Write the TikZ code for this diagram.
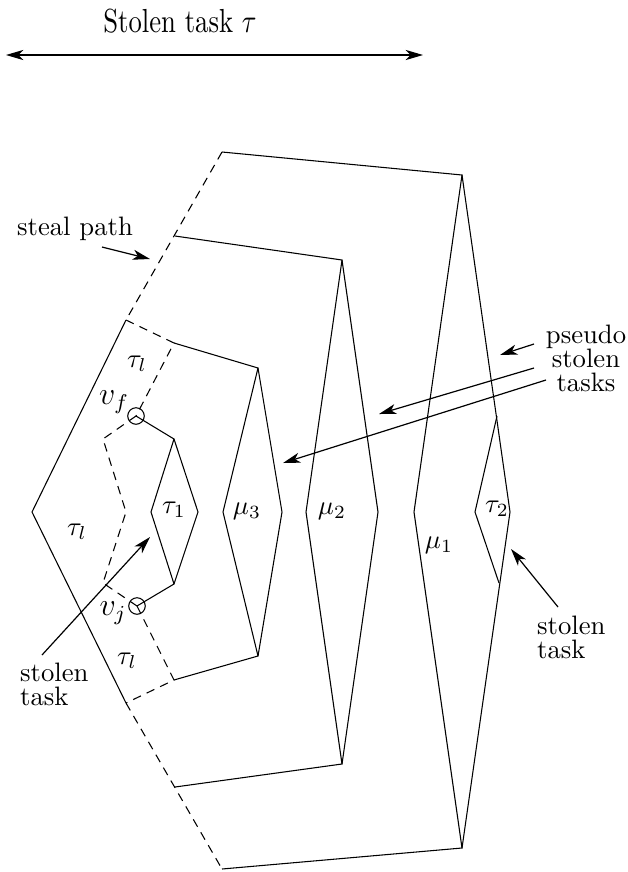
\documentclass[tikz,border=0pt]{standalone}
\usepackage{amsmath,amssymb}
\usepackage{tikz}
\usetikzlibrary{arrows.meta}
\usepackage{xcolor}

\begin{document}
\begin{tikzpicture}[x=0.375pt,y=-0.375pt]
  \tikzset{corner/.style={inner sep=0pt,minimum size=0pt}}
  \tikzset{taskedge/.style={draw=black,line width=0.4pt}}
  \tikzset{stealedge/.style={draw=black,line width=0.4pt,dash pattern=on 3.2pt off 2.4pt}}
  \tikzset{tip/.tip={Stealth[length=6.5pt,width=3.8pt,inset=1.8pt]}}
  \tikzset{pointer/.style={draw=black,line width=0.45pt,-tip}}
  \tikzset{span/.style={draw=black,line width=0.45pt,tip-tip}}
  \tikzset{vnode/.style={circle,draw=black,line width=0.4pt,inner sep=0pt,minimum size=6.2pt}}
  \tikzset{tasklabel/.style={inner sep=1pt,text=black}}
  \useasboundingbox (0,0) rectangle (628,872);
  % level 1
  \coordinate (o1t) at (222,152);
  \coordinate (m1p) at (462,175);
  \coordinate (m1l) at (414,512);
  \coordinate (m1r) at (510,512);
  \coordinate (m1b) at (462,848);
  \coordinate (o1b) at (222,869);
  % level 2
  \coordinate (o2t) at (175,236);
  \coordinate (m2p) at (342,260);
  \coordinate (m2l) at (306,512);
  \coordinate (m2r) at (378,512);
  \coordinate (m2b) at (342,764);
  \coordinate (o2b) at (175,787);
  % level 3
  \coordinate (o3t) at (174,343);
  \coordinate (m3p) at (258,368);
  \coordinate (m3l) at (223,512);
  \coordinate (m3r) at (282,512);
  \coordinate (m3b) at (258,656);
  \coordinate (o3b) at (174,680);
  % local task
  \coordinate (ht) at (126,320);
  \coordinate (hl) at (32,512);
  \coordinate (hb) at (126,703);
  \coordinate (d1) at (103,439);
  \coordinate (d2) at (126,512);
  \coordinate (d3) at (103,583);
  \node[vnode] (vf) at (136,416) {};
  \node[vnode] (vj) at (137,606) {};
  % stolen tasks
  \coordinate (t1t) at (174,439);
  \coordinate (t1l) at (151,512);
  \coordinate (t1r) at (198,512);
  \coordinate (t1b) at (174,584);
  \coordinate (t2t) at (497,416);
  \coordinate (t2l) at (475,512);
  \coordinate (t2b) at (499,583);

  \draw[taskedge] (o1t) -- (m1p) -- (m1l) -- (m1b) -- (o1b);
  \draw[taskedge] (m1p) -- (m1r) -- (m1b);
  \draw[taskedge] (o2t) -- (m2p) -- (m2l) -- (m2b) -- (o2b);
  \draw[taskedge] (m2p) -- (m2r) -- (m2b);
  \draw[taskedge] (o3t) -- (m3p) -- (m3l) -- (m3b) -- (o3b);
  \draw[taskedge] (m3p) -- (m3r) -- (m3b);
  \draw[taskedge] (ht) -- (hl) -- (hb);
  \draw[stealedge] (o1t) -- (ht);
  \draw[stealedge] (hb) -- (o1b);
  \draw[stealedge] (ht) -- (o3t) -- (vf.center);
  \draw[stealedge] (vf.center) -- (d1) -- (d2) -- (d3) -- (vj.center);
  \draw[stealedge] (vj.center) -- (o3b) -- (hb);
  \draw[taskedge] (vf.center) -- (t1t) -- (t1l) -- (t1b) -- (vj.center);
  \draw[taskedge] (t1t) -- (t1r) -- (t1b);
  \draw[taskedge] (t2t) -- (t2l) -- (t2b);

  % labels
  \node[tasklabel] (tl1) at (137,364) {$\tau_l$};
  \node[tasklabel] (tl2) at (77,532) {$\tau_l$};
  \node[tasklabel] (tl3) at (127,661) {$\tau_l$};
  \node[tasklabel,font=\large] (lvf) at (114,402) {$v_f$};
  \node[tasklabel,font=\large] (lvj) at (113,613) {$v_j$};
  \node[tasklabel] (lt1) at (174,510) {$\tau_1$};
  \node[tasklabel] (lt2) at (497,509) {$\tau_2$};
  \node[tasklabel] (lm3) at (247,511) {$\mu_3$};
  \node[tasklabel] (lm2) at (332,511) {$\mu_2$};
  \node[tasklabel] (lm1) at (439,545) {$\mu_1$};

  % notes
  \node[tasklabel] (title) at (180,21) {\scalebox{1}[1.25]{Stolen task $\tau$}};
  \coordinate (arl) at (6,55);
  \coordinate (arr) at (423,55);
  \draw[span] (arl) -- (arr);
  \node[tasklabel] (steal) at (75,229) {steal path};
  \coordinate (s0) at (102,247);
  \coordinate (s1) at (150,259);
  \draw[pointer] (s0) -- (s1);
  \node[tasklabel,align=center] (pseudo) at (586,358) {pseudo\\[-3pt]stolen\\[-3pt]tasks};
  \coordinate (p0) at (534,344);
  \coordinate (p1) at (500,355);
  \coordinate (q0) at (534,368);
  \coordinate (q1) at (379,414);
  \coordinate (r0) at (546,380);
  \coordinate (r1) at (283,463);
  \draw[pointer] (p0) -- (p1);
  \draw[pointer] (q0) -- (q1);
  \draw[pointer] (r0) -- (r1);
  \node[tasklabel,align=left,anchor=west] (stl) at (17,684) {stolen\\[-3pt]task};
  \coordinate (u0) at (42,655);
  \coordinate (u1) at (150,537);
  \draw[pointer] (u0) -- (u1);
  \node[tasklabel,align=left,anchor=west] (str) at (534,637) {stolen\\[-3pt]task};
  \coordinate (w0) at (558,607);
  \coordinate (w1) at (511,549);
  \draw[pointer] (w0) -- (w1);
\end{tikzpicture}
\end{document}
